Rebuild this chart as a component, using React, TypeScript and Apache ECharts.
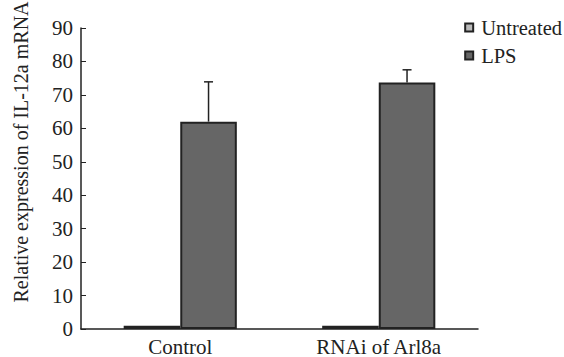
import React, { useEffect, useRef } from "react";
import * as echarts from "echarts";

const categories = ["Control", "RNAi of Arl8a"];
const untreated = [1, 1];
const lps = [62, 73.7];
const lpsErr = [11.9, 3.8];
const seriesNames = ["Untreated", "LPS"];
const yTitle = "Relative expression of IL-12a mRNA";

const FONT = "'Liberation Serif', 'Times New Roman', Times, serif";

export default function App() {
  const ref = useRef<HTMLDivElement>(null);
  useEffect(() => {
    if (!ref.current) return;
    const chart = echarts.init(ref.current, null, { renderer: "svg" });
    const errData = categories.map((c, i) => [i, lps[i], lps[i] + lpsErr[i]]);
    chart.setOption({
      animation: false,
      textStyle: { fontFamily: FONT, color: "#222" },
      grid: { left: 81, right: 86, top: 28, bottom: 28 },
      legend: {
        right: 2,
        top: 17,
        padding: 0,
        orient: "vertical",
        icon: "rect",
        itemWidth: 8,
        itemHeight: 8,
        itemGap: 7,
        itemStyle: { borderColor: "#222", borderWidth: 2 },
        textStyle: { fontFamily: FONT, fontSize: 20.5, color: "#222", padding: [0, 0, 0, 3] },
        data: seriesNames,
      },
      graphic: [
        {
          type: "text",
          x: 21,
          y: 152,
          rotation: Math.PI / 2,
          style: {
            text: yTitle,
            fontFamily: FONT,
            fontSize: 20,
            fill: "#222",
            align: "center",
            verticalAlign: "middle",
          },
        },
      ],
      xAxis: {
        type: "category",
        data: categories,
        axisLine: { lineStyle: { color: "#222", width: 1.5 } },
        axisTick: { inside: true, length: 5, lineStyle: { color: "#222" } },
        axisLabel: { fontFamily: FONT, fontSize: 21, color: "#222", margin: 7 },
      },
      yAxis: {
        type: "value",
        min: 0,
        max: 90,
        interval: 10,
        splitLine: { show: false },
        axisLine: { show: true, lineStyle: { color: "#222", width: 1.5 } },
        axisTick: { show: true, inside: true, length: 5, lineStyle: { color: "#222" } },
        axisLabel: { fontFamily: FONT, fontSize: 21, color: "#222", margin: 8 },
      },
      series: [
        {
          name: seriesNames[0],
          type: "bar",
          data: untreated,
          barGap: "0%",
          barCategoryGap: "43%",
          itemStyle: { color: "#bbbbbb", borderColor: "#222", borderWidth: 2 },
        },
        {
          name: seriesNames[1],
          type: "bar",
          data: lps,
          itemStyle: { color: "#666666", borderColor: "#222", borderWidth: 2 },
        },
        {
          type: "custom",
          name: "err",
          data: errData,
          z: 10,
          renderItem: (params: any, api: any) => {
            const idx = api.value(0);
            const base = api.coord([idx, api.value(1)]);
            const top = api.coord([idx, api.value(2)]);
            const bw = (api.size([1, 0])[0] as number) * 0.57 / 2;
            const x = base[0] + bw / 2;
            return {
              type: "group",
              children: [
                { type: "line", shape: { x1: x, y1: base[1], x2: x, y2: top[1] }, style: { stroke: "#222", lineWidth: 1.5 } },
                { type: "line", shape: { x1: x - 4.5, y1: top[1], x2: x + 4.5, y2: top[1] }, style: { stroke: "#222", lineWidth: 1.5 } },
              ],
            };
          },
        },
      ],
    });
    return () => chart.dispose();
  }, []);
  return <div ref={ref} style={{ width: 564, height: 357, position: "absolute", left: 0, top: 0 }} />;
}
